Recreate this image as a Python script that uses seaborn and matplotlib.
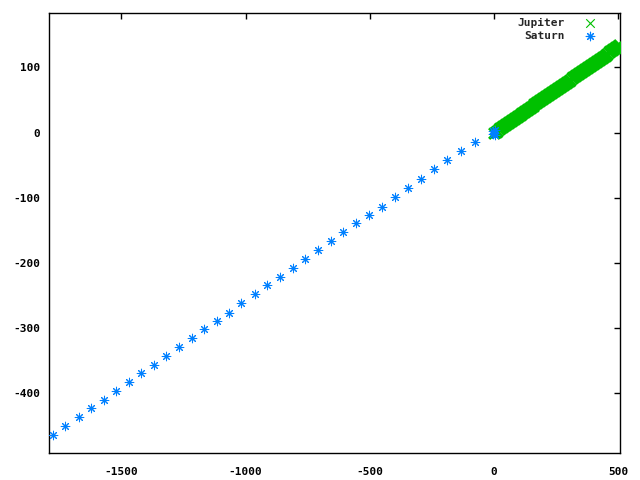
import seaborn as sns
import pandas as pd
import numpy as np
import matplotlib
matplotlib.use('Agg')
import matplotlib.pyplot as plt

# Saturn points
saturn_x = [-1777, -1725, -1672, -1624, -1572, -1523, -1471, -1422, -1370, -1320,
            -1269, -1217, -1169, -1116, -1066, -1017, -963, -913, -862, -810,
            -760, -709, -657, -607, -556, -505, -451, -399, -347, -294,
            -242, -189, -133, -77, -6, -3, 0, 3, 2]
saturn_y = [-464, -450, -437, -423, -410, -396, -382, -369, -356, -343,
            -329, -315, -302, -289, -276, -262, -248, -234, -222, -208,
            -194, -180, -167, -153, -139, -127, -114, -99, -85, -71,
            -56, -42, -29, -14, -2, 2, 0, -3, 4]

# Jupiter points (dense band near the origin)
jupiter_x = [0, 6, 12, 18, 24, 30, 36, 42, 48, 54, 60, 66, 72, 78, 84, 90, 96, 102,
             108, 114, 120, 126, 132, 138, 144, 150, 156, 162, 168, 174, 180, 186,
             192, 198, 204, 210, 216, 222, 228, 234, 240, 246, 252, 258, 264, 270,
             276, 282, 288, 294, 300, 306, 312, 318, 324, 330, 336, 342, 348, 354,
             360, 366, 372, 378, 384, 390, 396, 402, 408, 414, 420, 426, 432, 438,
             444, 450, 456, 462, 468, 474, 480, 486, 492, 498, 504]
jupiter_y = [0.0, 1.6, 3.2, 4.8, 6.4, 8.0, 9.6, 11.2, 12.8, 14.4, 16.0, 17.6, 19.2,
             20.7, 22.3, 23.9, 25.5, 27.1, 28.7, 30.3, 31.9, 33.5, 35.1, 36.7, 38.3,
             39.9, 41.5, 43.1, 44.7, 46.3, 47.9, 49.5, 51.1, 52.7, 54.3, 55.9, 57.5,
             59.1, 60.6, 62.2, 63.8, 65.4, 67.0, 68.6, 70.2, 71.8, 73.4, 75.0, 76.6,
             78.2, 79.8, 81.4, 83.0, 84.6, 86.2, 87.8, 89.4, 91.0, 92.6, 94.2, 95.8,
             97.4, 99.0, 100.5, 102.1, 103.7, 105.3, 106.9, 108.5, 110.1, 111.7,
             113.3, 114.9, 116.5, 118.1, 119.7, 121.3, 122.9, 124.5, 126.1, 127.7,
             129.3, 130.9, 132.5, 134.1]

x_ticks = [-1500, -1000, -500, 0, 500]
y_ticks = [-400, -300, -200, -100, 0, 100]

sns.set_style('white')
plt.rcParams['font.family'] = ['DejaVu Sans Mono']
plt.rcParams['font.weight'] = 'bold'
plt.rcParams['axes.unicode_minus'] = False

jupiter = pd.DataFrame({'x': jupiter_x, 'y': jupiter_y})
saturn = pd.DataFrame({'x': saturn_x, 'y': saturn_y})

fig = plt.figure(figsize=(6.4, 4.8), dpi=100)
ax = fig.add_axes([0.0763, 0.0556, 0.8927, 0.9167])

sns.scatterplot(data=jupiter, x='x', y='y', ax=ax, marker='x', color='#00c000',
                s=60, linewidth=2.2, label='Jupiter', zorder=3)
sns.scatterplot(data=saturn, x='x', y='y', ax=ax, marker=(8, 2, 0), color='#0080ff',
                s=38, linewidth=0.75, label='Saturn', zorder=4)

ax.set_xlim(-1792, 507)
ax.set_ylim(-492, 183)
ax.set_xticks(x_ticks)
ax.set_yticks(y_ticks)
ax.set_xlabel('')
ax.set_ylabel('')
ax.tick_params(direction='in', length=4, width=1, top=True, right=True,
               labelsize=8, colors='black')
ax.tick_params(axis='x', pad=10)
ax.tick_params(axis='y', pad=6)
for sp in ax.spines.values():
    sp.set_color('black')
    sp.set_linewidth(1)
for lbl in ax.get_xticklabels() + ax.get_yticklabels():
    lbl.set_fontweight('bold')

leg = ax.legend(loc='upper right', bbox_to_anchor=(0.974, 1.0), frameon=False,
                markerfirst=False, handletextpad=1.26, labelspacing=0.25,
                borderaxespad=0, handlelength=2.0,
                prop={'family': 'DejaVu Sans Mono', 'weight': 'bold', 'size': 8})
for h in leg.legend_handles:
    h.set_linewidth(0.8)
    h.set_sizes([38])

plt.savefig('out.png', dpi=100)
